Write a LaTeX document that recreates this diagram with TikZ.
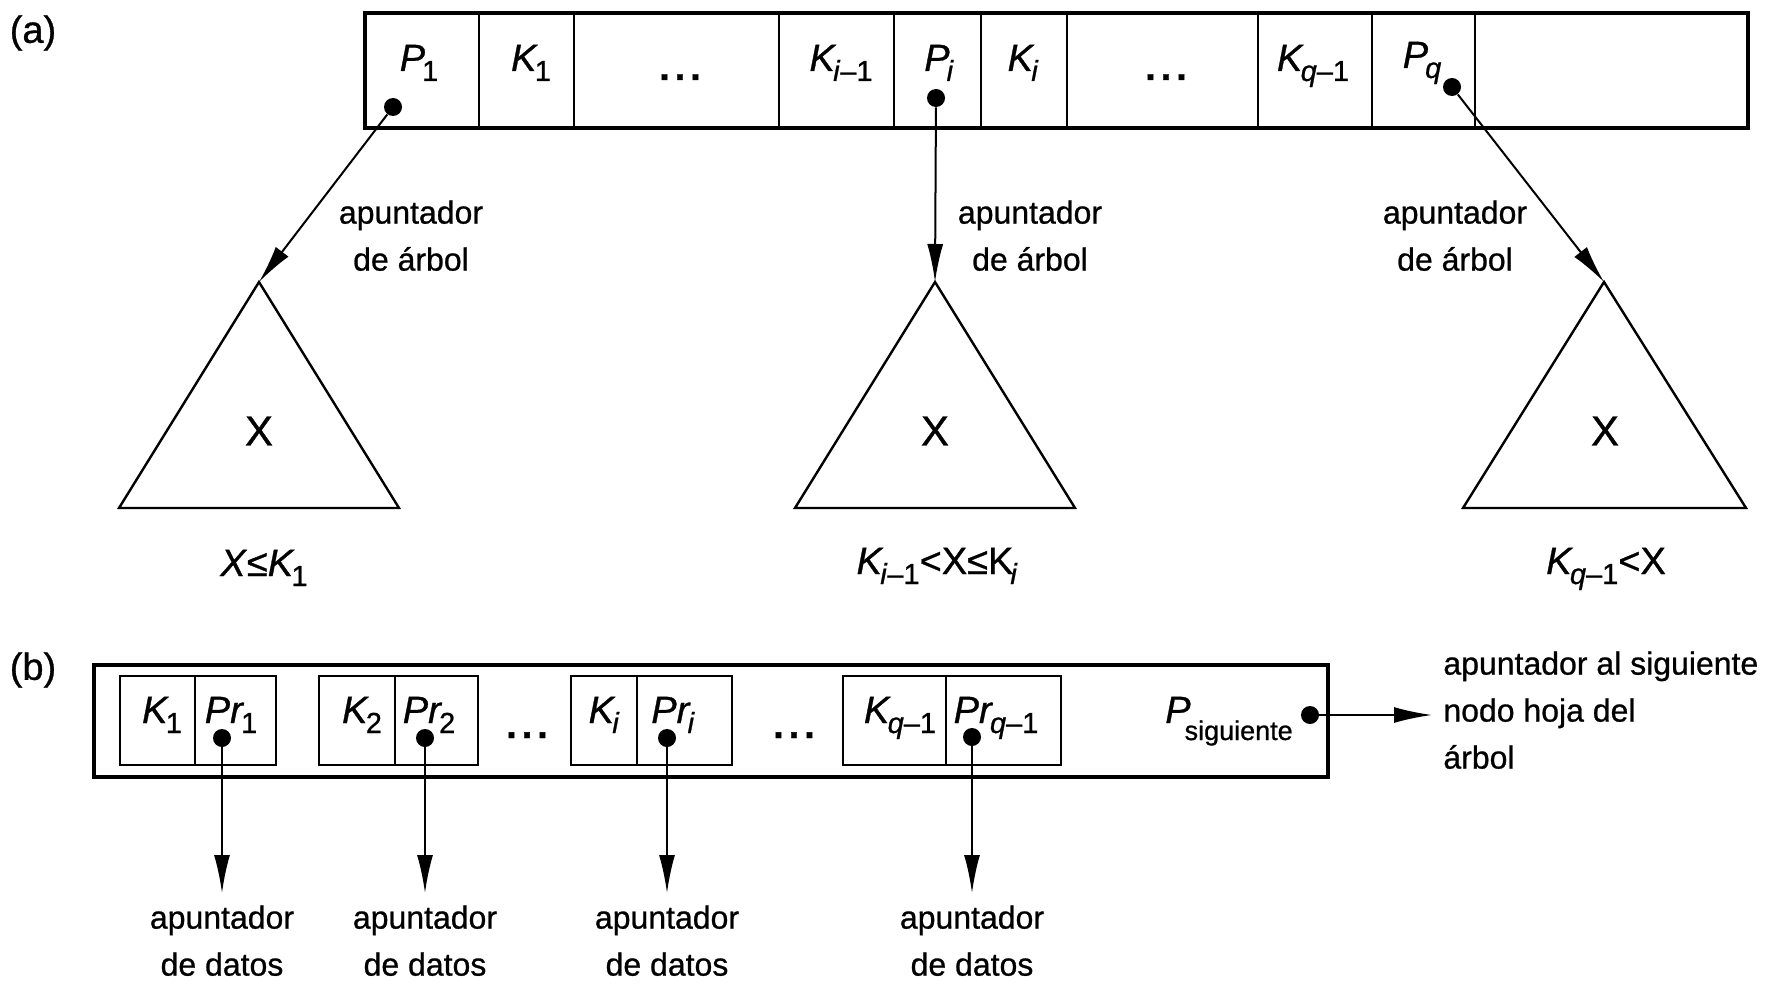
\documentclass[tikz,border=0pt]{standalone}
\usepackage{fontspec}
\setmainfont{Liberation Sans}[FakeBold=0.8]
\usetikzlibrary{arrows.meta,fit}
\newcommand\lo[1]{\kern-1.5pt\raisebox{-5pt}{\fontsize{14.5pt}{14.5pt}\selectfont #1}}
\newcommand\tdots{\textbf{.\kern2.5pt.\kern2.5pt.}}
\begin{document}
\begin{tikzpicture}[x=0.5pt,y=-0.5pt,
  cell/.style={draw, line width=1pt, inner sep=0pt},
  frame/.style={draw, line width=2pt, inner sep=0pt},
  lab/.style={font=\fontsize{19pt}{19pt}\selectfont, inner sep=0pt, anchor=base},
  tag/.style={font=\fontsize{19pt}{19pt}\selectfont, inner sep=0pt},
  bigx/.style={font=\fontsize{21pt}{21pt}\selectfont, inner sep=0pt},
  ann/.style={font=\fontsize{16pt}{23.5pt}\selectfont, align=center, inner sep=0pt, anchor=north},
  annl/.style={font=\fontsize{16pt}{23.5pt}\selectfont, align=left, inner sep=0pt, anchor=north west},
  dot/.style={circle, fill, inner sep=0pt, minimum size=9pt},
  arr/.style={line width=1pt, -{Latex[length=19pt,width=8pt]}},
  tri/.style={line width=1.2pt, line join=miter},
]
\useasboundingbox (0,0) rectangle (1781,984);

% ---------------- (a) ----------------
\node[tag] (la) at (33,33) {(a)};
\foreach \n/\l/\r in {c1/365/479, c2/479/574, c3/574/779, c4/779/894, c5/894/981,
                      c6/981/1067, c7/1067/1258, c8/1258/1372, c9/1372/1475, c10/1475/1748}
  {\node[cell, fit={(\l,13) (\r,128)}] (\n) {};}
\node[frame, fit={(365,13) (1748,128)}] (topnode) {};

\node[lab] (tP1) at (419,71) {\textit{P}\lo{1}};
\node[lab] (tK1) at (531,71) {\textit{K}\lo{1}};
\node[lab] (tdots1) at (680,80) {\tdots};
\node[lab] (tKi1) at (841,71) {\textit{K}\lo{\textit{i}--1}};
\node[lab] (tPi) at (939,71) {\textit{P}\lo{\textit{i}}};
\node[lab] (tKi) at (1023,71) {\textit{K}\lo{\textit{i}}};
\node[lab] (tdots2) at (1166,80) {\tdots};
\node[lab] (tKq1) at (1313,71) {\textit{K}\lo{\textit{q}--1}};
\node[lab] (tPq) at (1422,68) {\textit{P}\lo{\textit{q}}};

\node[dot] (d1) at (393,107) {};
\node[dot] (d2) at (936,98) {};
\node[dot] (d3) at (1452,87) {};

\coordinate (a1) at (259,282);
\coordinate (a2) at (935,282);
\coordinate (a3) at (1604,282);
\draw[tri] (a1) -- (119,508) -- (399,508) -- cycle;
\draw[tri] (a2) -- (795,508) -- (1075,508) -- cycle;
\draw[tri] (a3) -- (1463,508) -- (1746,508) -- cycle;

\draw[arr] (d1) -- (a1);
\draw[arr] (d2) -- (a2);
\draw[arr] (d3) -- (a3);

\node[ann] (n1) at (411,200) {apuntador\\de árbol};
\node[ann] (n2) at (1030,200) {apuntador\\de árbol};
\node[ann] (n3) at (1455,200) {apuntador\\de árbol};

\node[bigx] (x1) at (259,431) {X};
\node[bigx] (x2) at (935,431) {X};
\node[bigx] (x3) at (1605,431) {X};

\node[lab] (r1) at (264,576) {\textit{X}≤\textit{K}\lo{1}};
\node[lab] (r2) at (937,574) {\textit{K}\lo{\textit{i}--1}<X≤K\lo{\textit{i}}};
\node[lab] (r3) at (1606,574) {\textit{K}\lo{\textit{q}--1}<X};

% ---------------- (b) ----------------
\node[tag] (lb) at (33,670) {(b)};
\node[frame, fit={(94,665) (1328,777)}] (leaf) {};
\foreach \n/\l/\r in {k1/120/195, p1/195/276, k2/319/395, p2/395/478,
                      k3/571/637, p3/637/732, k4/843/946, p4/946/1061}
  {\node[cell, line width=1.2pt, fit={(\l,676) (\r,765)}] (\n) {};}

\node[lab] (bK1) at (162,723) {\textit{K}\lo{1}};
\node[lab] (bP1) at (231,723) {\textit{Pr}\lo{1}};
\node[lab] (bK2) at (362,723) {\textit{K}\lo{2}};
\node[lab] (bP2) at (429,723) {\textit{Pr}\lo{2}};
\node[lab] (bd1) at (527,738) {\tdots};
\node[lab] (bKi) at (604,723) {\textit{K}\lo{\textit{i}}};
\node[lab] (bPi) at (673,723) {\textit{Pr}\lo{\textit{i}}};
\node[lab] (bd2) at (794,738) {\tdots};
\node[lab] (bKq) at (900,723) {\textit{K}\lo{\textit{q}--1}};
\node[lab] (bPq) at (996,723) {\textit{Pr}\lo{\textit{q}--1}};
\node[lab] (psig) at (1229,723) {\textit{P}\kern-3pt\raisebox{-8.5pt}{\fontsize{13.5pt}{13.5pt}\selectfont siguiente}};

\node[dot] (e1) at (222,738) {};
\node[dot] (e2) at (425,738) {};
\node[dot] (e3) at (667,738) {};
\node[dot] (e4) at (972,737) {};
\node[dot] (es) at (1310,715) {};

\node[ann] (m1) at (222,905) {apuntador\\de datos};
\node[ann] (m2) at (425,905) {apuntador\\de datos};
\node[ann] (m3) at (667,905) {apuntador\\de datos};
\node[ann] (m4) at (972,905) {apuntador\\de datos};
\node[annl] (nxt) at (1443,651) {apuntador al siguiente\\nodo hoja del\\árbol};

\draw[arr, shorten >=6pt] (e1) -- (m1.north);
\draw[arr, shorten >=6pt] (e2) -- (m2.north);
\draw[arr, shorten >=6pt] (e3) -- (m3.north);
\draw[arr, shorten >=6pt] (e4) -- (m4.north);
\draw[arr, shorten >=5.5pt] (es) -- (es -| nxt.west);
\end{tikzpicture}
\end{document}
